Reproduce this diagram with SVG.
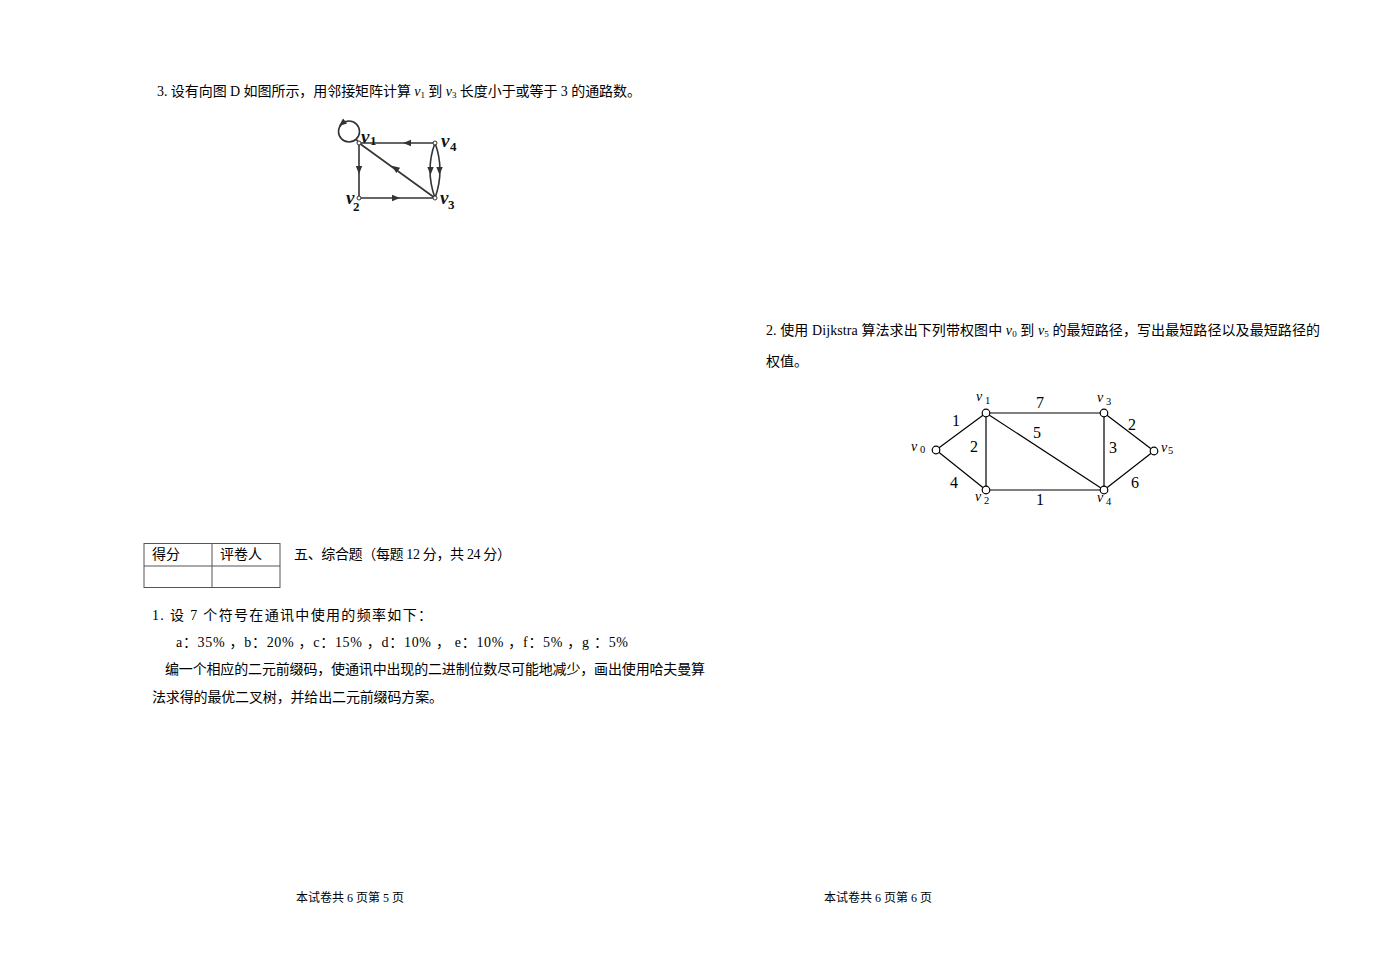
<svg xmlns="http://www.w3.org/2000/svg" xmlns:xlink="http://www.w3.org/1999/xlink" width="1376" height="972" viewBox="0 0 1376 972">
<style>
.t{font-family:"Liberation Serif","Noto Sans CJK SC",serif;font-size:14px;fill:#000}
.f{font-family:"Liberation Serif","Noto Sans CJK SC",serif;font-size:12px;fill:#000}
.vi{font-family:"Liberation Serif",serif;font-style:italic}
.dl{font-family:"Liberation Serif",serif;font-style:italic;font-weight:bold;font-size:19px;fill:#111}
.ds{font-family:"Liberation Serif",serif;font-weight:bold;font-size:13px;fill:#111}
.de{stroke:#333;stroke-width:1.6;fill:none}
.dn{fill:#fff;stroke:#333;stroke-width:1}
.we{stroke:#000;stroke-width:1.2;fill:none}
.wn{fill:#fff;stroke:#000;stroke-width:1.2}
.wl{font-family:"Liberation Serif",serif;font-size:16px;fill:#000}
.wv{font-family:"Liberation Serif",serif;font-style:italic;font-size:14px;fill:#000}
.ws{font-family:"Liberation Serif",serif;font-size:10.5px;fill:#000}
.tb{fill:none;stroke:#555;stroke-width:1}
</style>
<defs>
<path id="ah" d="M4,0 L-4,-3.2 L-4,3.2 Z" fill="#333"/>
</defs>
<rect width="1376" height="972" fill="#fff"/>

<!-- Left page text -->
<g id="q3-text">
<text class="t" x="157" y="96" textLength="484" lengthAdjust="spacing">3. 设有向图 D 如图所示，用邻接矩阵计算 <tspan class="vi">v</tspan><tspan font-size="9" dy="2">1</tspan><tspan dy="-2"> 到 </tspan><tspan class="vi">v</tspan><tspan font-size="9" dy="2">3</tspan><tspan dy="-2"> 长度小于或等于 3 的通路数。</tspan></text>
</g>

<!-- Directed graph -->
<g id="digraph-connectors">
<circle class="de" cx="349" cy="131.5" r="10.5"/>
<line class="de" x1="356" y1="139" x2="359" y2="143"/>
<line class="de" x1="435" y1="143" x2="359" y2="143"/>
<line class="de" x1="359" y1="143" x2="359" y2="198"/>
<line class="de" x1="359" y1="198" x2="435" y2="198"/>
<line class="de" x1="435" y1="198" x2="359" y2="143"/>
<path class="de" d="M435,143 Q425,170 435,198"/>
<path class="de" d="M435,143 Q445,170 435,198"/>
<use xlink:href="#ah" transform="translate(342,123.5) rotate(140)"/>
<use xlink:href="#ah" transform="translate(407,143) rotate(180)"/>
<use xlink:href="#ah" transform="translate(359,170) rotate(90)"/>
<use xlink:href="#ah" transform="translate(396,198)"/>
<use xlink:href="#ah" transform="translate(395,168) rotate(215.9)"/>
<use xlink:href="#ah" transform="translate(430.5,171) rotate(90)"/>
<use xlink:href="#ah" transform="translate(439.5,171) rotate(90)"/>
</g>
<g id="d-v1"><circle class="dn" cx="359" cy="143" r="2"/><text class="dl" x="361" y="143">v</text><text class="ds" x="370" y="145">1</text></g>
<g id="d-v4"><circle class="dn" cx="435" cy="143" r="2"/><text class="dl" x="441" y="147">v</text><text class="ds" x="450" y="151">4</text></g>
<g id="d-v2"><circle class="dn" cx="359" cy="198" r="2"/><text class="dl" x="346" y="204">v</text><text class="ds" x="353" y="211">2</text></g>
<g id="d-v3"><circle class="dn" cx="435" cy="198" r="2"/><text class="dl" x="440" y="204">v</text><text class="ds" x="448" y="209">3</text></g>

<!-- Right page question 2 -->
<g id="q2-text">
<text class="t" x="766" y="335" textLength="554" lengthAdjust="spacing">2. 使用 Dijkstra 算法求出下列带权图中 <tspan class="vi">v</tspan><tspan font-size="9" dy="2">0</tspan><tspan dy="-2"> 到 </tspan><tspan class="vi">v</tspan><tspan font-size="9" dy="2">5</tspan><tspan dy="-2"> 的最短路径，写出最短路径以及最短路径的</tspan></text>
<text class="t" x="766" y="366">权值。</text>
</g>

<!-- Weighted graph -->
<g id="wgraph-connectors">
<line class="we" x1="936" y1="450" x2="986" y2="413"/>
<line class="we" x1="936" y1="450" x2="986" y2="490"/>
<line class="we" x1="986" y1="413" x2="986" y2="490"/>
<line class="we" x1="986" y1="413" x2="1104" y2="413"/>
<line class="we" x1="986" y1="413" x2="1104" y2="490"/>
<line class="we" x1="986" y1="490" x2="1104" y2="490"/>
<line class="we" x1="1104" y1="413" x2="1104" y2="490"/>
<line class="we" x1="1104" y1="413" x2="1154" y2="451"/>
<line class="we" x1="1104" y1="490" x2="1154" y2="451"/>
<text class="wl" x="952" y="426">1</text>
<text class="wl" x="1036" y="408">7</text>
<text class="wl" x="970" y="452">2</text>
<text class="wl" x="1033" y="438">5</text>
<text class="wl" x="1109" y="453">3</text>
<text class="wl" x="1128" y="430">2</text>
<text class="wl" x="950" y="488">4</text>
<text class="wl" x="1036" y="505">1</text>
<text class="wl" x="1131" y="488">6</text>
</g>
<g id="w-v0"><circle class="wn" cx="936" cy="450" r="3.8"/><text class="wv" x="911" y="451">v</text><text class="ws" x="920" y="453">0</text></g>
<g id="w-v1"><circle class="wn" cx="986" cy="413" r="3.8"/><text class="wv" x="976" y="401">v</text><text class="ws" x="985" y="404">1</text></g>
<g id="w-v2"><circle class="wn" cx="986" cy="490" r="3.8"/><text class="wv" x="975" y="501">v</text><text class="ws" x="984" y="504">2</text></g>
<g id="w-v3"><circle class="wn" cx="1104" cy="413" r="3.8"/><text class="wv" x="1097" y="402">v</text><text class="ws" x="1106" y="405">3</text></g>
<g id="w-v4"><circle class="wn" cx="1104" cy="490" r="3.8"/><text class="wv" x="1097" y="502">v</text><text class="ws" x="1106" y="505">4</text></g>
<g id="w-v5"><circle class="wn" cx="1154" cy="451" r="3.8"/><text class="wv" x="1161" y="452">v</text><text class="ws" x="1168" y="454">5</text></g>

<!-- Score table -->
<g id="score-table">
<rect class="tb" x="144" y="543.5" width="136" height="44"/>
<line class="tb" x1="212" y1="543.5" x2="212" y2="587.5"/>
<line class="tb" x1="144" y1="566" x2="280" y2="566"/>
<text class="t" x="152" y="559">得分</text>
<text class="t" x="220" y="559">评卷人</text>
</g>
<g id="section5">
<text class="t" x="294" y="559" textLength="217" lengthAdjust="spacing">五、综合题（每题 12 分，共 24 分）</text>
</g>

<g id="q1-text">
<text class="t" x="152" y="620" textLength="280" lengthAdjust="spacing">1.  设 7 个符号在通讯中使用的频率如下：</text>
<text class="t" x="176" y="647" textLength="452" lengthAdjust="spacing">a：35% ，b：20% ，c：15% ，d：10% ，  e：10% ，f：5% ，g ：5%</text>
<text class="t" x="165" y="674" textLength="540" lengthAdjust="spacing">编一个相应的二元前缀码，使通讯中出现的二进制位数尽可能地减少，画出使用哈夫曼算</text>
<text class="t" x="152" y="702" textLength="291" lengthAdjust="spacing">法求得的最优二叉树，并给出二元前缀码方案。</text>
</g>

<!-- Footers -->
<g id="footer-left"><text class="f" x="296" y="902">本试卷共 6 页第 5 页</text></g>
<g id="footer-right"><text class="f" x="824" y="902">本试卷共 6 页第 6 页</text></g>
</svg>
